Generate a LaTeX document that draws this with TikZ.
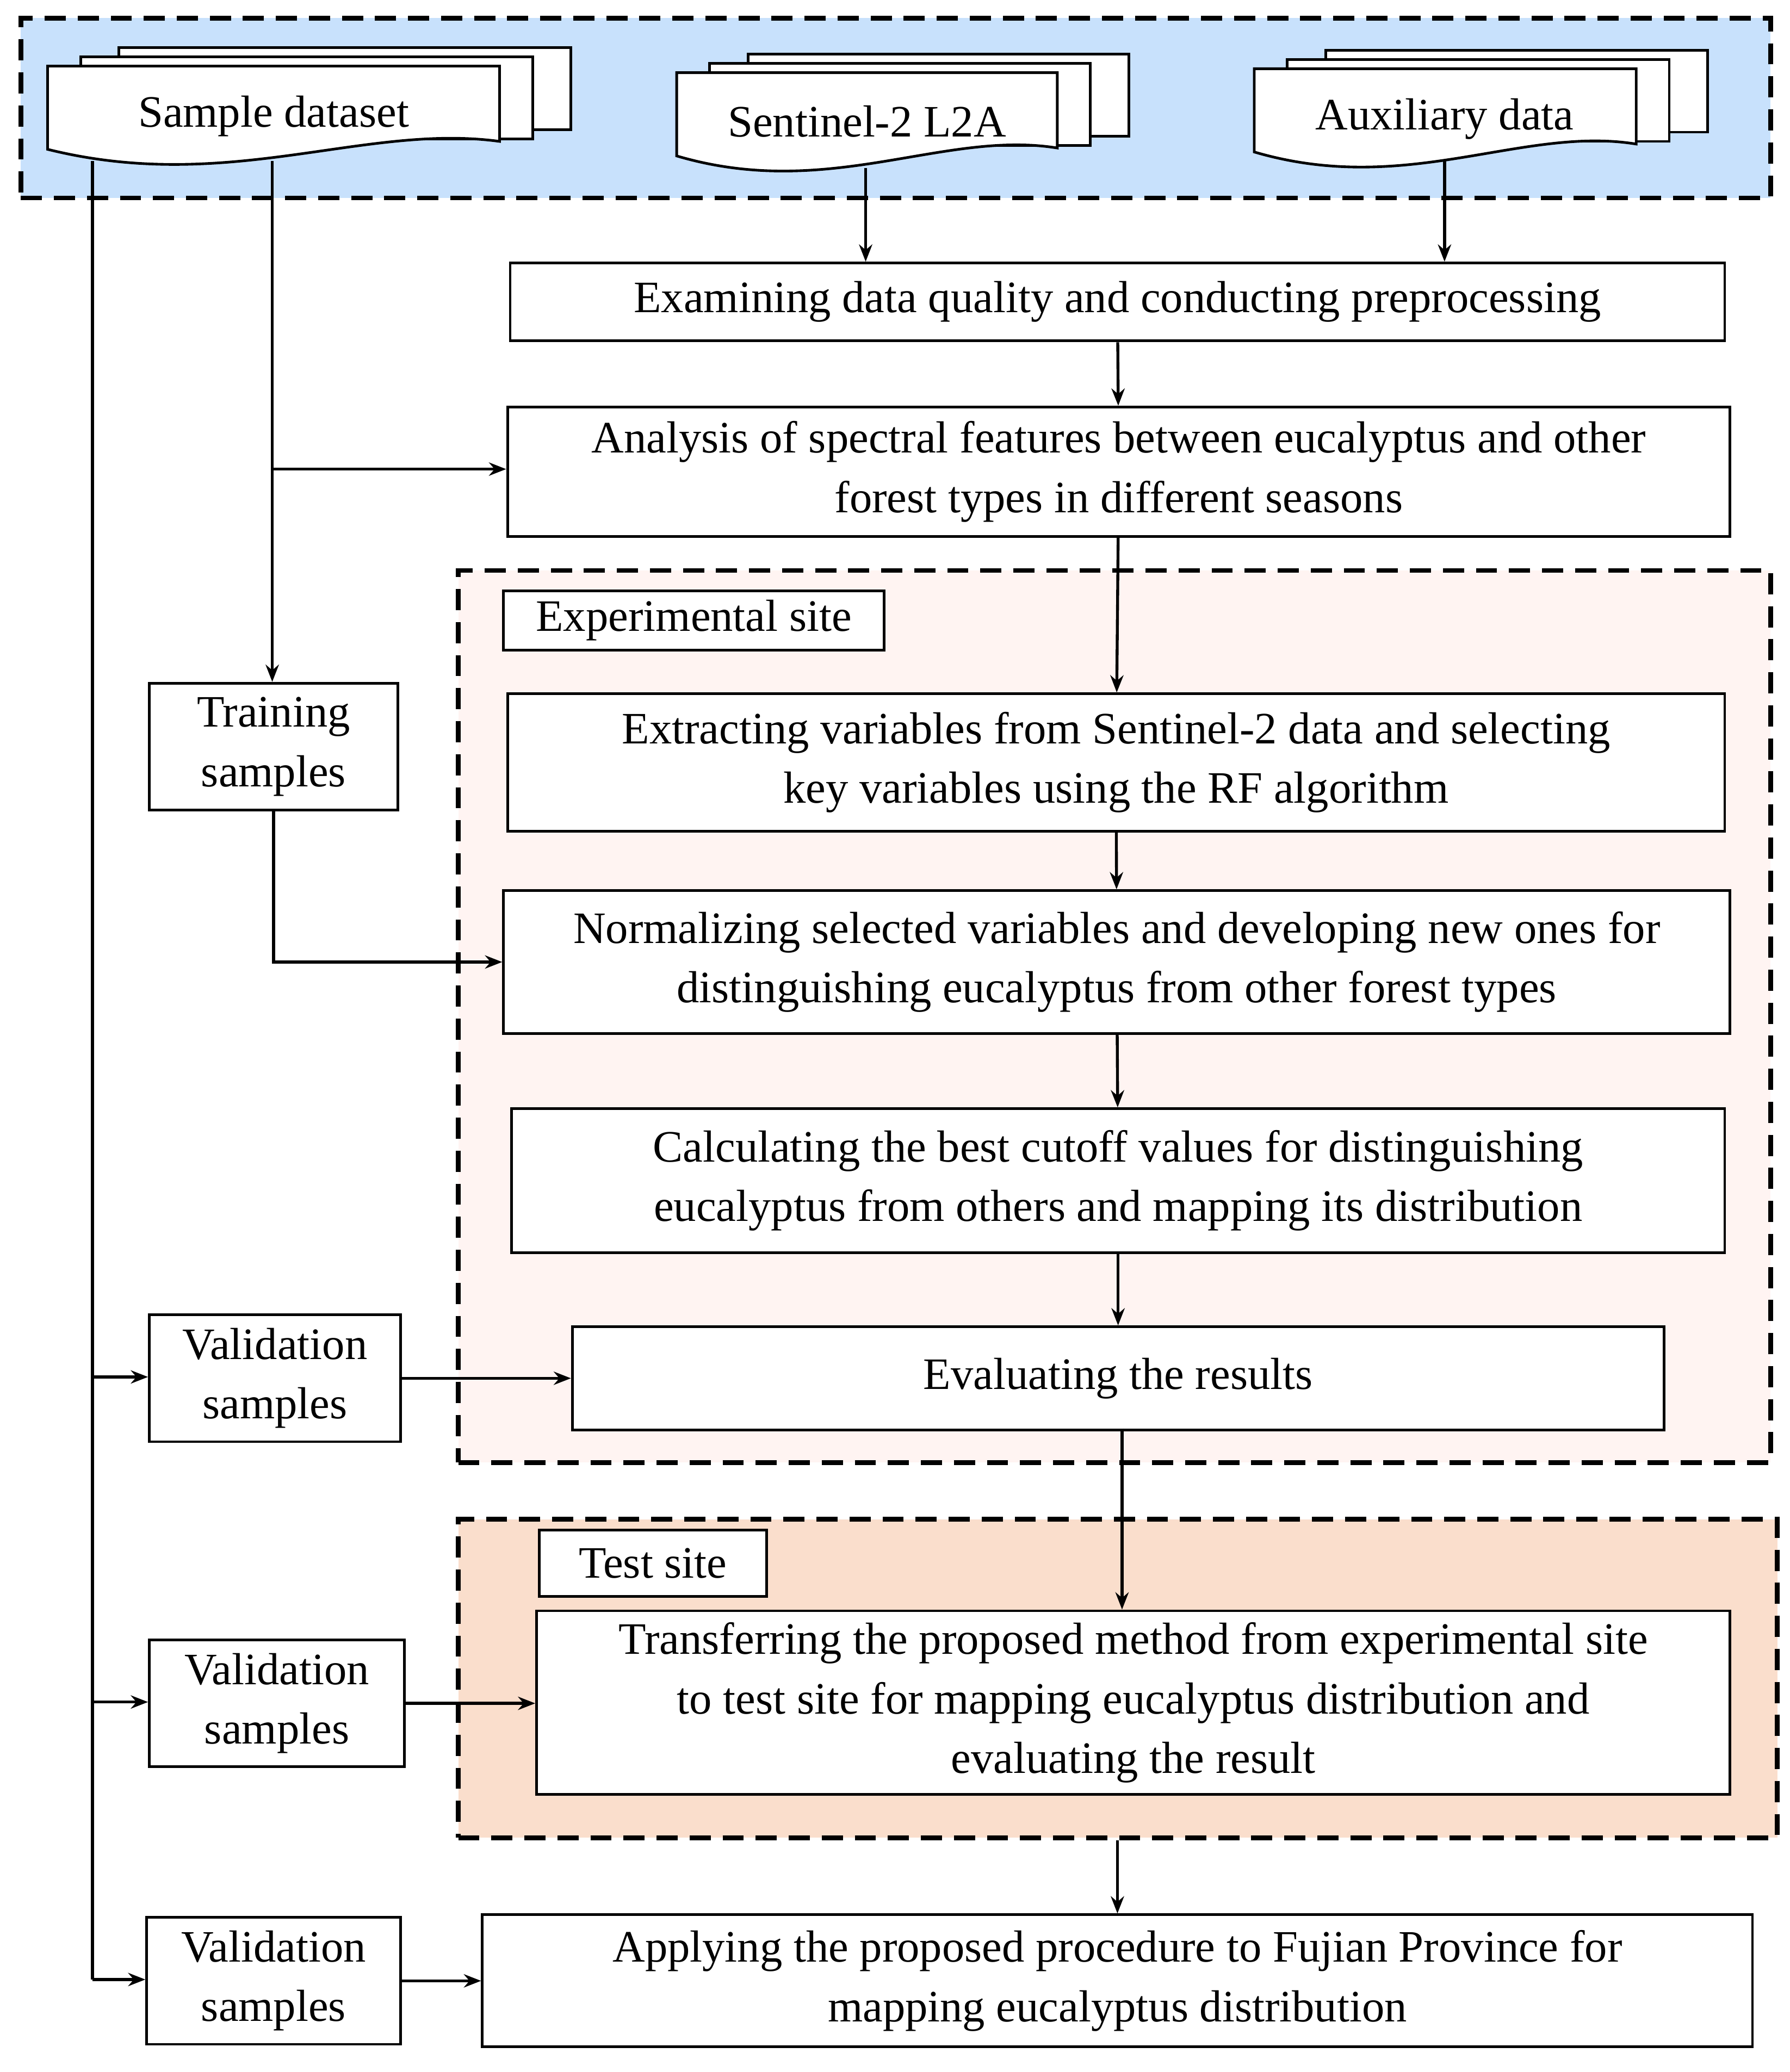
\documentclass[tikz,border=0pt]{standalone}
\usepackage{fontspec}
\setmainfont{Liberation Serif}
\usetikzlibrary{arrows.meta}
\newcommand\mydoc[4]{%
 \draw[line width=2pt,fill=white] (#1+54,#2-14)--(#3+54,#2-14)--(#3+54,#4-27)--(#1+54,#4-27)--cycle;
 \draw[line width=2pt,fill=white] (#1+25,#2-7)--(#3+25,#2-7)--(#3+25,#4-20)--(#1+25,#4-20)--cycle;
 \draw[line width=2pt,fill=white] (#1,#2)--(#3,#2)--(#3,#4-18) .. controls ({#3-0.3*(#3-#1)},#4-32) and ({#1+0.4*(#3-#1)},#4+22) .. (#1,#4-12)--cycle;}
\begin{document}
\begin{tikzpicture}[x=1pt,y=-1pt,
 box/.style={draw,line width=2pt,fill=white,align=center,inner sep=0pt,font=\fontsize{34}{45}\selectfont},
 lbl/.style={font=\fontsize{34}{45}\selectfont,inner sep=0pt},
 reg/.style={draw,line width=3.5pt,dash pattern=on 16pt off 9pt},
 ar/.style={line width=2.2pt,-{Stealth[length=13pt,width=10pt]}},
 ln/.style={line width=2.2pt}]
\useasboundingbox (0,0) rectangle (1354,1568);
% regions
\node[reg,fill={rgb,255:red,200;green,225;blue,252},minimum width=1324pt,minimum height=136pt,inner sep=0pt,anchor=north west] (top) at (14,12) {};
\node[reg,fill={rgb,255:red,255;green,244;blue,242},minimum width=993pt,minimum height=675pt,inner sep=0pt,anchor=north west] (exp) at (345,430) {};
\node[reg,fill={rgb,255:red,250;green,222;blue,204},minimum width=998pt,minimum height=241pt,inner sep=0pt,anchor=north west] (test) at (345,1148) {};
% documents
\mydoc{36}{50}{378}{125}
\mydoc{512}{55}{800}{130}
\mydoc{949}{52}{1238}{127}
\node[lbl] (sd) at (207,88) {Sample dataset};
\node[lbl] (s2) at (656,92) {Sentinel-2 L2A};
\node[lbl] (ax) at (1093,90) {Auxiliary data};
\coordinate (sdb) at (206,122);
\coordinate (sdl) at (70,122);
\coordinate (s2b) at (655,127);
\coordinate (axb) at (1093,122);
% boxes
\newcommand\bx[6]{\node[box,minimum width=#4-#2,minimum height=#5-#3,anchor=north west] (#1) at (#2,#3) {#6};}
\bx{b1}{385}{198}{1304}{257}{Examining data quality and conducting preprocessing}
\bx{b2}{383}{307}{1308}{405}{Analysis of spectral features between eucalyptus and other\\forest types in different seasons}
\bx{el}{380}{446}{668}{491}{Experimental site}
\bx{b3}{383}{524}{1304}{628}{Extracting variables from Sentinel-2 data and selecting\\key variables using the RF algorithm}
\bx{b4}{380}{673}{1308}{781}{Normalizing selected variables and developing new ones for\\distinguishing eucalyptus from other forest types}
\bx{b5}{386}{838}{1304}{947}{Calculating the best cutoff values for distinguishing\\eucalyptus from others and mapping its distribution}
\bx{b6}{432}{1003}{1258}{1081}{Evaluating the results}
\bx{tl}{407}{1157}{579}{1207}{Test site}
\bx{b7}{405}{1218}{1308}{1357}{Transferring the proposed method from experimental site\\to test site for mapping eucalyptus distribution and\\evaluating the result}
\bx{b8}{364}{1448}{1325}{1548}{Applying the proposed procedure to Fujian Province for\\mapping eucalyptus distribution}
\bx{tr}{112}{516}{300}{612}{Training\\samples}
\bx{v1}{112}{994}{302}{1090}{Validation\\samples}
\bx{v2}{112}{1240}{305}{1336}{Validation\\samples}
\bx{v3}{110}{1450}{302}{1546}{Validation\\samples}
% connectors
\draw[ar] (s2b) -- (s2b|-b1.north);
\draw[ar] (axb) -- (axb|-b1.north);
\draw[ar] (b1) -- (b2);
\draw[ar] (b2) -- (b3);
\draw[ar] (b3) -- (b4);
\draw[ar] (b4) -- (b5);
\draw[ar] (b5) -- (b6);
\draw[ar] (849,1081) -- (849,1218);
\draw[ar] (test.south-|b8.north) -- (b8.north);
\draw[ar] (sdb) -- (sdb|-tr.north);
\draw[ar] (206,355) -- (b2.west|-206,355);
\draw[ar] (tr.south) |- (b4.west);
\draw[ln] (sdl) -- (70,1498);
\draw[ar] (70,1042) -- (v1.west|-70,1042);
\draw[ar] (70,1288) -- (v2.west|-70,1288);
\draw[ar] (70,1498) -- (v3.west|-70,1498);
\draw[ar] (v1.east) -- (b6.west|-v1.east);
\draw[ar] (v2.east) -- (b7.west|-v2.east);
\draw[ar] (v3.east) -- (b8.west|-v3.east);
\end{tikzpicture}
\end{document}
